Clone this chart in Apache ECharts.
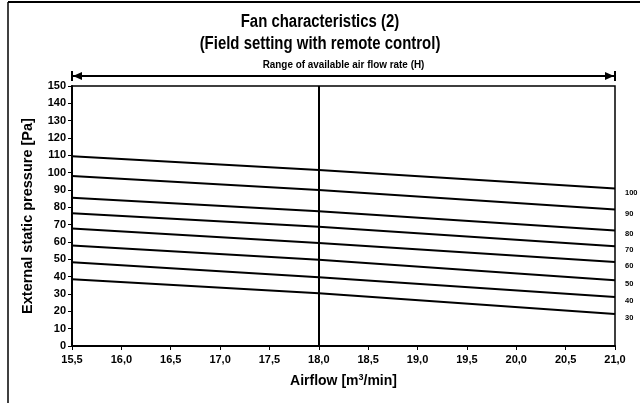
<!DOCTYPE html>
<html>
<head>
<meta charset="utf-8">
<script src="https://cdn.jsdelivr.net/npm/echarts@6/dist/echarts.min.js"></script>
<style>
  html, body { margin: 0; padding: 0; background: #fff; }
  #container { width: 640px; height: 403px; }
</style>
</head>
<body>
<div id="container"></div>
<script>
var airflow = [15.5, 18.0, 21.0];
var settings = ['100', '90', '80', '70', '60', '50', '40', '30'];
var pressure = [
    [109.4, 101.5, 90.8],
    [98.1, 90.0, 78.7],
    [85.6, 77.8, 66.7],
    [76.6, 68.8, 57.5],
    [67.8, 59.4, 48.4],
    [58.0, 49.8, 37.9],
    [48.3, 39.7, 28.3],
    [38.5, 30.5, 18.4]
];
var setPoint = 18.0;
var rangeH = [15.5, 21.0];

var font = '"Liberation Sans", Arial, sans-serif';
var myChart = echarts.init(document.getElementById('container'));

var series = settings.map(function (name, i) {
    return {
        name: name,
        type: 'line',
        symbol: 'none',
        silent: true,
        lineStyle: { color: '#000', width: 2 },
        data: airflow.map(function (x, j) { return [x, pressure[i][j]]; }),
        endLabel: {
            show: true,
            formatter: name,
            color: '#000',
            fontSize: 7.5,
            fontWeight: 'bold',
            fontFamily: 'Arial, sans-serif',
            offset: [2, 4]
        }
    };
});
series[0].markLine = {
    silent: true,
    symbol: 'none',
    label: { show: false },
    lineStyle: { color: '#000', width: 2, type: 'solid' },
    data: [{ xAxis: setPoint }]
};

var option = {
    animation: false,
    backgroundColor: '#fff',
    grid: {
        left: 72, right: 25, top: 86, bottom: 57,
        show: true, borderColor: '#000', borderWidth: 1.5
    },
    xAxis: {
        type: 'value',
        min: 15.5, max: 21.0, interval: 0.5,
        name: '{a|Airflow [m}{s|3}{a|/min]}',
        nameLocation: 'middle',
        nameGap: 27,
        nameTextStyle: {
            rich: {
                a: { fontFamily: font, fontSize: 14, fontWeight: 'bold', color: '#000' },
                s: { fontFamily: font, fontSize: 9, fontWeight: 'bold', color: '#000', verticalAlign: 'top', padding: [0, 0, 8, 0] }
            }
        },
        splitLine: { show: false },
        axisLine: { lineStyle: { color: '#000', width: 2 } },
        axisTick: { show: true, length: 4, lineStyle: { color: '#000' } },
        axisLabel: {
            color: '#000', fontSize: 11, fontWeight: 'bold', fontFamily: 'Arial, sans-serif', margin: 8,
            formatter: function (v) { return v.toFixed(1).replace('.', ','); }
        }
    },
    yAxis: {
        type: 'value',
        min: 0, max: 150, interval: 10,
        name: 'External static pressure [Pa]',
        nameLocation: 'middle',
        nameGap: 37,
        nameTextStyle: { fontFamily: font, fontSize: 14.5, fontWeight: 'bold', color: '#000' },
        splitLine: { show: false },
        axisLine: { show: true, lineStyle: { color: '#000', width: 2 } },
        axisTick: { show: true, length: 4, lineStyle: { color: '#000' } },
        axisLabel: { color: '#000', fontSize: 11, fontWeight: 'bold', fontFamily: 'Arial, sans-serif', margin: 6 }
    },
    series: series
};
myChart.setOption(option);

// title, frame and range arrow
var x0 = myChart.convertToPixel({ xAxisIndex: 0 }, rangeH[0]);
var x1 = myChart.convertToPixel({ xAxisIndex: 0 }, rangeH[1]);
var ay = 76;
myChart.setOption({
    graphic: [
        {
            type: 'text', x: 320, y: 11, scaleX: 0.83,
            style: {
                text: 'Fan characteristics (2)\n(Field setting with remote control)', fill: '#000',
                font: 'bold 18px ' + font, textAlign: 'center', lineHeight: 22
            }
        },
        { type: 'line', shape: { x1: 8, y1: 2, x2: 640, y2: 2 }, style: { stroke: '#000', lineWidth: 2 } },
        { type: 'line', shape: { x1: 8, y1: 2, x2: 8, y2: 403 }, style: { stroke: '#000', lineWidth: 1.5 } },
        { type: 'line', shape: { x1: x0, y1: ay, x2: x1, y2: ay }, style: { stroke: '#000', lineWidth: 2 } },
        { type: 'line', shape: { x1: x0, y1: ay - 5, x2: x0, y2: ay + 5 }, style: { stroke: '#000', lineWidth: 2 } },
        { type: 'line', shape: { x1: x1, y1: ay - 5, x2: x1, y2: ay + 5 }, style: { stroke: '#000', lineWidth: 2 } },
        { type: 'polygon', shape: { points: [[x0 + 1, ay], [x0 + 10, ay - 4], [x0 + 10, ay + 4]] }, style: { fill: '#000' } },
        { type: 'polygon', shape: { points: [[x1 - 1, ay], [x1 - 10, ay - 4], [x1 - 10, ay + 4]] }, style: { fill: '#000' } },
        {
            type: 'text', x: (x0 + x1) / 2, y: ay - 6, scaleX: 0.9,
            style: {
                text: 'Range of available air flow rate (H)', fill: '#000',
                font: 'bold 11px ' + font, textAlign: 'center', textVerticalAlign: 'bottom'
            }
        }
    ]
});
</script>
</body>
</html>
